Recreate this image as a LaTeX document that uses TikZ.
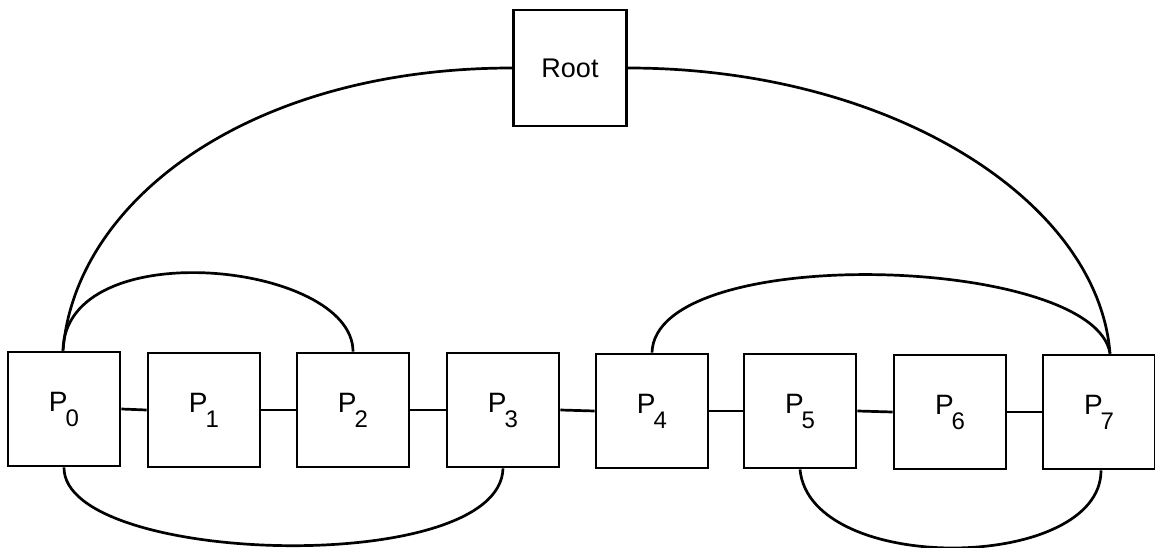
\documentclass[tikz,border=0pt]{standalone}
\usepackage{fontspec}
\setmainfont{Liberation Sans}
\begin{document}
\begin{tikzpicture}[x=1pt,y=-1pt,
  pbox/.style={draw,line width=2.8pt,minimum width=112pt,minimum height=114pt,inner sep=0pt,font=\fontsize{28}{28}\selectfont},
  wire/.style={line width=2.7pt}]
\useasboundingbox (0,0) rectangle (1155,548);
\newcommand{\plab}[1]{P\kern-2pt\raisebox{-15pt}{\fontsize{24}{24}\selectfont #1}}
\node[pbox] (p0) at (64,409) {\plab{0}};
\node[pbox] (p1) at (204,410) {\plab{1}};
\node[pbox] (p2) at (353,410) {\plab{2}};
\node[pbox] (p3) at (503,410) {\plab{3}};
\node[pbox] (p4) at (652,411) {\plab{4}};
\node[pbox] (p5) at (800,411) {\plab{5}};
\node[pbox] (p6) at (950,412) {\plab{6}};
\node[pbox] (p7) at (1099,412) {\plab{7}};
\node[pbox,minimum width=113pt,minimum height=116pt,font=\fontsize{27}{27}\selectfont] (root) at (570,68) {Root};
\foreach \a/\b in {p0/p1,p1/p2,p2/p3,p3/p4,p4/p5,p5/p6,p6/p7}
  \draw[wire] (\a.east) -- (\b.west);
\coordinate (p0t) at ([xshift=-1pt]p0.north);
\coordinate (p7t) at ([xshift=11pt]p7.north);
\draw[wire] (root.west) .. controls (250,68) and (75,200) .. (p0t);
\draw[wire] (root.east) .. controls (890,68) and (1098,200) .. (p7t);
\draw[wire] (p0t) .. controls (65,232) and (353,262) .. (p2.north);
\draw[wire] (p4.north) .. controls (655,242) and (1095,255) .. (p7t);
\coordinate (p3b) at (p3.south);
\draw[wire] (p0.south) .. controls (63,565) and (500,578) .. (p3b);
\coordinate (p7b) at ([xshift=2pt]p7.south);
\draw[wire] (p5.south) .. controls (810,576) and (1101,572) .. (p7b);
\end{tikzpicture}
\end{document}
